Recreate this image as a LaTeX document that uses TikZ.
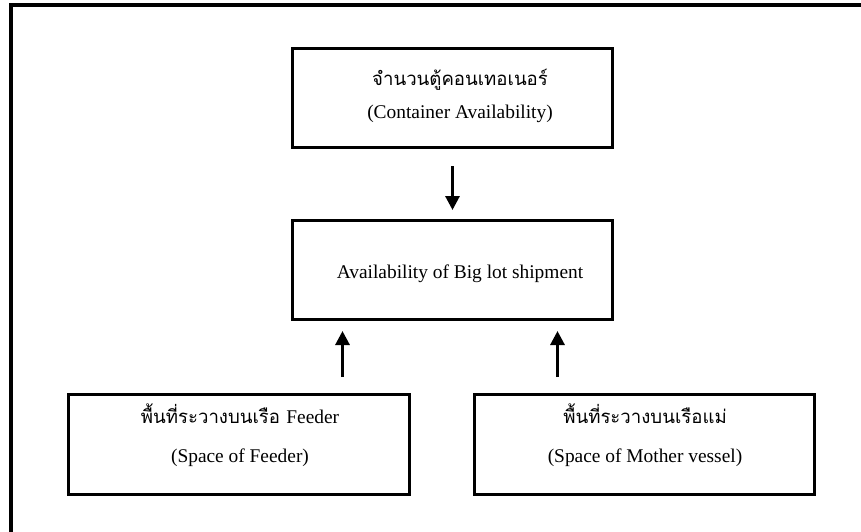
\documentclass[tikz,border=0pt]{standalone}
\usepackage{fontspec}
\setmainfont{Liberation Serif}
\newfontfamily\thaifont[Script=Thai]{Loma}
\usetikzlibrary{arrows.meta}
\begin{document}
\begin{tikzpicture}[x=1pt,y=-1pt,
  box/.style={draw=black,line width=3pt,inner sep=0pt,anchor=north west},
  latin/.style={anchor=base,inner sep=0pt,font=\fontsize{19.4}{22}\selectfont},
  thai/.style={anchor=base,inner sep=0pt,font=\thaifont\fontsize{18.6}{22}\selectfont},
  arr/.style={line width=3pt,-{Triangle[width=14pt,length=14pt]}}]
\useasboundingbox (0,0) rectangle (861,531);
% outer frame, running off the page on the right and at the bottom
\draw[line width=3.5pt] (11,540) -- (11,5) -- (870,5);
% boxes
\node[box,minimum width=320pt,minimum height=99pt] (avail) at (291,47) {};
\node[box,minimum width=320pt,minimum height=99pt] (big) at (291,219) {};
\node[box,minimum width=341pt,minimum height=100pt] (feeder) at (67,393) {};
\node[box,minimum width=340pt,minimum height=100pt] (mother) at (473,393) {};
% texts
\node[thai] (availTh) at (460,85) {จำนวนตู้คอนเทอเนอร์};
\node[latin] (availEn) at (460,118) {(Container Availability)};
\node[latin] (bigEn) at (460,278) {Availability of Big lot shipment};
\node[thai] (feederTh) at (240,423) {พื้นที่ระวางบนเรือ {\rmfamily\fontsize{19.4}{22}\selectfont Feeder}};
\node[latin] (feederEn) at (240,462) {(Space of Feeder)};
\node[thai] (motherTh) at (645,423) {พื้นที่ระวางบนเรือแม่};
\node[latin] (motherEn) at (645,462) {(Space of Mother vessel)};
% connectors
\draw[arr,shorten <=17pt,shorten >=9pt] (avail.south) -- (big.north);
\draw[arr,shorten <=16pt,shorten >=10pt] ([xshift=-110pt]big.south |- feeder.north) -- ([xshift=-110pt]big.south);
\draw[arr,shorten <=16pt,shorten >=10pt] ([xshift=105pt]big.south |- mother.north) -- ([xshift=105pt]big.south);
\end{tikzpicture}
\end{document}
